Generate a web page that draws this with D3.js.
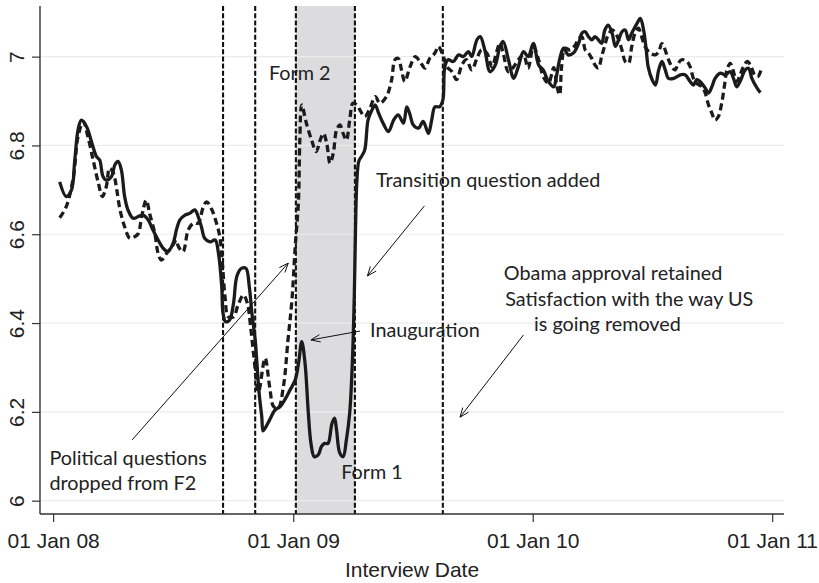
<!DOCTYPE html>
<html><head><meta charset="utf-8">
<script src="https://cdn.jsdelivr.net/npm/d3@7"></script>
<style>body{margin:0;background:#fff}svg{display:block}</style>
</head><body>
<svg id="c" width="819" height="583"></svg>
<script>
// Days are counted from 01 Jan 2008
const solidDays = [10,20,28,33,38,43,51,59,66,71,76,81,89,94,99,104,109,114,122,130,137,145,152,160,168,175,183,188,193,201,208,216,221,226,231,239,247,252,257,259,263,269,275,280,287,294,299,303,308,311,314,318,320,323,330,338,346,353,361,369,374,379,384,389,393,398,404,409,414,419,425,429,432,437,442,447,452,456,459,461,463,466,470,475,480,486,491,496,503,511,519,526,534,539,544,549,557,564,572,577,582,589,594,597,602,610,618,625,633,638,646,651,658,666,674,681,686,694,702,709,717,724,732,740,747,755,763,767,773,778,785,793,801,806,811,816,821,826,831,836,841,846,852,857,862,867,872,877,882,890,895,900,904,907,913,918,923,928,933,938,946,956,963,971,976,981,986,994,999,1004,1009,1017,1024,1032,1037,1042,1047,1055,1060,1065,1073,1078];
const solidValues = [6.718,6.685,6.700,6.767,6.835,6.857,6.842,6.806,6.775,6.767,6.730,6.722,6.730,6.756,6.764,6.745,6.685,6.655,6.636,6.640,6.643,6.632,6.610,6.587,6.568,6.561,6.580,6.610,6.632,6.643,6.647,6.655,6.640,6.617,6.591,6.583,6.587,6.557,6.482,6.422,6.403,6.407,6.445,6.505,6.523,6.523,6.482,6.422,6.362,6.302,6.242,6.189,6.157,6.163,6.182,6.204,6.212,6.227,6.249,6.272,6.309,6.358,6.309,6.197,6.129,6.099,6.103,6.122,6.129,6.129,6.174,6.186,6.159,6.107,6.099,6.137,6.197,6.309,6.459,6.620,6.720,6.765,6.775,6.790,6.857,6.880,6.891,6.873,6.850,6.831,6.857,6.869,6.850,6.887,6.869,6.846,6.839,6.854,6.827,6.857,6.887,6.887,6.902,6.977,6.993,6.989,7.004,7.000,7.011,7.000,7.038,7.045,7.015,6.966,6.981,7.023,7.034,6.993,6.951,6.977,7.011,7.000,7.030,6.981,6.970,6.944,6.932,6.955,7.000,7.019,7.004,7.008,7.030,7.053,7.056,7.045,7.038,7.045,7.038,7.030,7.060,7.071,7.053,7.023,7.038,7.056,7.060,7.038,7.053,7.075,7.086,7.060,7.015,6.977,6.948,6.936,6.970,6.989,6.970,6.951,6.951,6.959,6.959,6.944,6.936,6.948,6.944,6.929,6.918,6.932,6.951,6.963,6.959,6.966,6.951,6.932,6.944,6.970,6.974,6.951,6.929,6.919];

const dashedDays = [10,20,31,38,46,53,61,69,75,81,86,92,97,102,109,117,125,130,135,142,147,155,160,165,173,181,188,191,198,206,214,221,229,234,242,249,254,258,262,267,275,282,290,296,301,306,313,323,330,336,343,351,358,364,369,374,376,379,386,394,401,407,412,417,422,427,432,437,442,447,452,457,463,469,475,483,491,498,508,516,521,526,531,536,544,552,559,567,574,582,587,595,600,608,615,623,630,638,646,653,661,669,676,681,686,694,702,709,717,724,732,740,747,755,763,768,772,775,780,788,796,801,806,811,816,821,826,831,836,841,846,852,857,862,867,872,877,882,887,892,897,902,910,918,923,928,938,943,948,953,958,966,971,976,981,989,994,999,1004,1009,1014,1019,1023,1027,1032,1037,1042,1047,1052,1058,1064,1069,1074,1079];
const dashedValues = [6.637,6.662,6.730,6.820,6.854,6.820,6.767,6.715,6.685,6.707,6.749,6.737,6.700,6.655,6.617,6.591,6.595,6.602,6.640,6.677,6.647,6.602,6.557,6.542,6.557,6.572,6.587,6.572,6.561,6.610,6.625,6.625,6.662,6.673,6.655,6.625,6.595,6.535,6.459,6.414,6.414,6.441,6.463,6.445,6.392,6.324,6.245,6.321,6.257,6.212,6.208,6.257,6.362,6.452,6.572,6.677,6.812,6.891,6.850,6.812,6.786,6.812,6.827,6.805,6.760,6.782,6.835,6.846,6.827,6.812,6.857,6.895,6.891,6.876,6.865,6.884,6.910,6.895,6.910,6.948,6.993,6.996,6.970,6.944,6.977,7.000,6.989,6.974,6.996,7.008,7.023,7.000,6.977,6.966,6.948,6.981,6.993,6.970,6.996,7.015,7.008,6.977,7.011,7.030,7.008,6.966,6.977,6.993,7.004,6.974,7.023,6.993,6.955,6.940,6.975,6.932,6.914,6.977,7.019,7.015,7.026,7.041,7.045,7.015,7.008,6.996,6.981,6.974,7.000,7.026,7.049,7.060,7.053,7.038,7.015,6.989,6.985,7.023,7.053,7.064,7.045,7.023,7.008,7.004,7.011,7.029,6.993,6.977,6.970,6.985,6.993,6.989,6.977,6.951,6.940,6.932,6.918,6.891,6.873,6.857,6.865,6.895,6.932,6.970,6.985,6.966,6.944,6.959,6.977,6.989,6.977,6.959,6.955,6.970];

const yTicks = [6, 6.2, 6.4, 6.6, 6.8, 7];
const yTickLabels = ["6", "6.2", "6.4", "6.6", "6.8", "7"];
const xTicks = ["2008-01-01", "2009-01-01", "2010-01-01", "2011-01-01"];
const xTickLabels = ["01 Jan 08", "01 Jan 09", "01 Jan 10", "01 Jan 11"];
const xDomain = ["2007-12-12", "2011-01-19"];
const yDomain = [5.97, 7.114];
const refLines = ["2008-09-16", "2008-11-04", "2009-01-05", "2009-04-05", "2009-08-17"];
const shadedBand = ["2009-01-05", "2009-04-05"];
const xTitle = "Interview Date";

// annotation text: [day, value, text]
const notes = [
  [329, 6.948, "Form 2"],
  [492, 6.707, "Transition question added"],
  [687, 6.497, "Obama approval retained"],
  [689, 6.4385, "Satisfaction with the way US"],
  [733, 6.381, "is going removed"],
  [483, 6.369, "Inauguration"],
  [439, 6.049, "Form 1"],
  [-5.6, 6.080, "Political questions"],
  [-5.6, 6.024, "dropped from F2"]
];
// arrows: [fromDay, fromValue, toDay, toValue]
const arrows = [
  [120.5, 6.137, 358.4, 6.535],
  [566, 6.664, 479, 6.506],
  [467.7, 6.382, 393, 6.362],
  [716.8, 6.373, 620.2, 6.188]
];

const parse = d3.timeParse("%Y-%m-%d");
const base = new Date(2008, 0, 1);
const dayDate = d => new Date(base.getTime() + d * 86400000);

const L = 40, R = 784, T = 6, B = 514;
const x = d3.scaleTime().domain(xDomain.map(parse)).range([L, R]);
const y = d3.scaleLinear().domain(yDomain).range([B, T]);

const svg = d3.select("#c");
const ink = "#1b1b1b";

// shaded band
svg.append("rect")
  .attr("x", x(parse(shadedBand[0]))).attr("y", T)
  .attr("width", x(parse(shadedBand[1])) - x(parse(shadedBand[0])))
  .attr("height", B - T).attr("fill", "#dcdcde");

// gridlines
svg.append("g").selectAll("line").data(yTicks).join("line")
  .attr("x1", L).attr("x2", R).attr("y1", d => y(d)).attr("y2", d => y(d))
  .attr("stroke", "#ececec").attr("stroke-width", 1.2);

// vertical reference lines
svg.append("g").selectAll("line").data(refLines).join("line")
  .attr("x1", d => x(parse(d))).attr("x2", d => x(parse(d)))
  .attr("y1", T).attr("y2", B)
  .attr("stroke", "#111").attr("stroke-width", 2.1).attr("stroke-dasharray", "5,2.2");

// axes
const yAxis = d3.axisLeft(y).tickValues(yTicks).tickFormat((d, i) => yTickLabels[i]).tickSize(8).tickSizeOuter(0);
const gy = svg.append("g").attr("transform", `translate(${L},0)`).call(yAxis);
gy.select(".domain").attr("d", `M0,${T}V${B}`).attr("stroke", "#333").attr("stroke-width", 1.4);
gy.selectAll(".tick line").attr("stroke", "#333").attr("stroke-width", 1.2);
gy.selectAll(".tick text").attr("font-family", "Liberation Sans, Arial, sans-serif").attr("font-size", 21)
  .attr("fill", "#222").attr("text-anchor", "middle").attr("x", 0).attr("dy", 0)
  .attr("transform", "translate(-16,0) rotate(-90)");

const xAxis = d3.axisBottom(x).tickValues(xTicks.map(parse)).tickFormat((d, i) => xTickLabels[i]).tickSize(8).tickSizeOuter(0);
const gx = svg.append("g").attr("transform", `translate(0,${B})`).call(xAxis);
gx.select(".domain").attr("d", `M${L},0H${R}`).attr("stroke", "#333").attr("stroke-width", 1.4);
gx.selectAll(".tick line").attr("stroke", "#333").attr("stroke-width", 1.2);
gx.selectAll(".tick text").attr("font-family", "Liberation Sans, Arial, sans-serif").attr("font-size", 21)
  .attr("fill", "#222").attr("y", 34).attr("dy", 0);

svg.append("text").attr("x", (L + R) / 2).attr("y", 577).attr("text-anchor", "middle")
  .attr("font-family", "Liberation Sans, Arial, sans-serif").attr("font-size", 21).attr("fill", "#222")
  .text(xTitle);

// series
const line = d3.line().x(d => x(dayDate(d[0]))).y(d => y(d[1])).curve(d3.curveCatmullRom.alpha(0.5));
const solid = solidDays.map((d, i) => [d, solidValues[i]]);
const dashed = dashedDays.map((d, i) => [d, dashedValues[i]]);
svg.append("path").datum(solid).attr("d", line).attr("fill", "none")
  .attr("stroke", ink).attr("stroke-width", 3.3).attr("stroke-linejoin", "round");
svg.append("path").datum(dashed).attr("d", line).attr("fill", "none")
  .attr("stroke", ink).attr("stroke-width", 3.3).attr("stroke-dasharray", "7,4").attr("stroke-linejoin", "round");

// annotations
svg.append("g").selectAll("text").data(notes).join("text")
  .attr("x", d => x(dayDate(d[0]))).attr("y", d => y(d[1]))
  .attr("font-family", "Lato, 'Open Sans', sans-serif").attr("font-size", 19.8).attr("fill", "#222")
  .text(d => d[2]);

const ag = svg.append("g").attr("stroke", "#111").attr("stroke-width", 1).attr("fill", "none");
arrows.forEach(a => {
  const x1 = x(dayDate(a[0])), y1 = y(a[1]), x2 = x(dayDate(a[2])), y2 = y(a[3]);
  ag.append("line").attr("x1", x1).attr("y1", y1).attr("x2", x2).attr("y2", y2);
  const ang = Math.atan2(y2 - y1, x2 - x1), len = 10, spread = 0.38;
  const p1 = [x2 - len * Math.cos(ang - spread), y2 - len * Math.sin(ang - spread)];
  const p2 = [x2 - len * Math.cos(ang + spread), y2 - len * Math.sin(ang + spread)];
  ag.append("path").attr("d", `M${p1}L${x2},${y2}L${p2}`);
});
</script>
</body></html>
